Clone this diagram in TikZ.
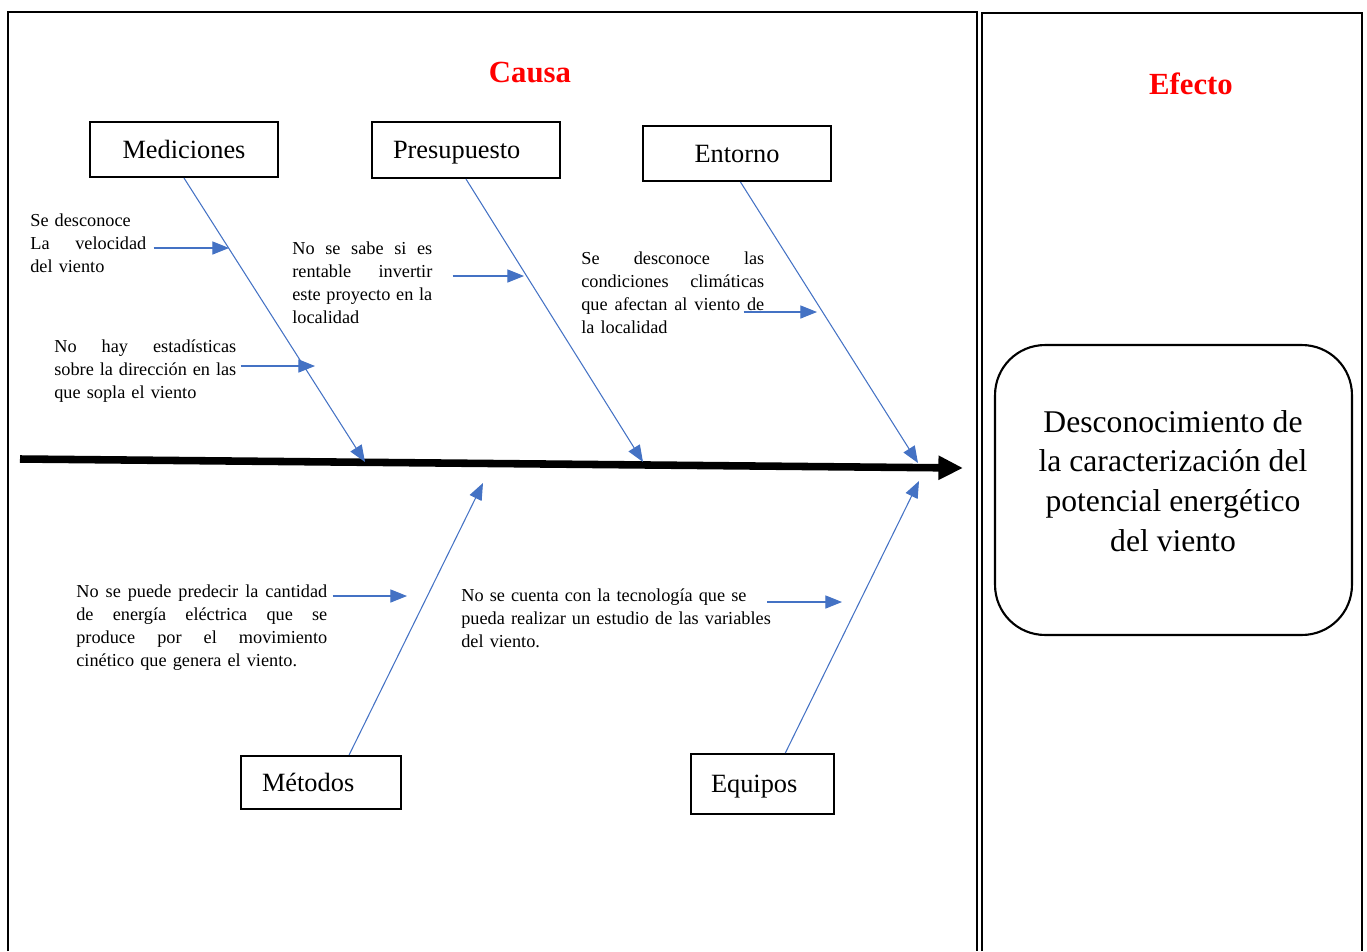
\documentclass[tikz,border=0pt]{standalone}
\usepackage{fontspec}
\setmainfont{Liberation Serif}
\usetikzlibrary{arrows.meta, positioning, calc}
\definecolor{boneblue}{HTML}{4472C4}
\newcommand{\jl}[2]{\makebox[#1][s]{\spaceskip=0pt\relax #2}}

\begin{document}
\begin{tikzpicture}[
    x=0.02cm, y=-0.02cm,
    frame/.style={line width=1.3pt},
    cat/.style={rectangle, draw, line width=1.2pt, font=\fontsize{15}{18}\selectfont, inner ysep=0pt, text height=12pt, text depth=2pt},
    cause/.style={inner sep=0pt, anchor=base west, font=\fontsize{10.4}{13.2}\selectfont},
    title/.style={font=\fontsize{17.5}{21}\selectfont\bfseries, text=red},
    bone/.style={draw=boneblue, line width=0.6pt, -{Triangle[length=9.5pt, width=7.5pt]}},
    spine/.style={line width=4.3pt, -{Triangle[length=14pt, width=13pt]}},
]
\useasboundingbox (0,0) rectangle (1367,951);

% Frames
\draw[frame] (8,951) -- (8,12) -- (977,12) -- (977,951);
\draw[frame] (982,951) -- (982,13) -- (1362,13) -- (1362,951);

% Titles
\node[title] (causa) at (530,73) {Causa};
\node[title] (efecto) at (1191,84) {Efecto};

% Categories
\node[cat, minimum width=3.76cm, minimum height=1.1cm] (med) at (184,149.5) {Mediciones};
\node[cat, inner xsep=0.42cm, text width=2.92cm, align=left, minimum height=1.12cm] (pre) at (466,150) {Presupuesto};
\node[cat, minimum width=3.76cm, minimum height=1.1cm] (ent) at (737,153.5) {Entorno};
\node[cat, inner xsep=0.42cm, text width=2.36cm, align=left, minimum height=1.06cm] (met) at (321,782.5) {Métodos};
\node[cat, inner xsep=0.4cm, text width=2.06cm, align=left, minimum height=1.2cm] (equ) at (762.5,784) {Equipos};

% Effect
\node[draw, line width=1.2pt, rounded corners=1cm, minimum width=7.14cm, minimum height=5.8cm] (effbox) at (1173.5,490) {};
\node[align=center, font=\fontsize{18}{22.7}\selectfont] (efftext) at (1173,481) {Desconocimiento de\\la caracterización del\\potencial energético\\del viento};

% Spine
\coordinate (tail) at (20,459);
\coordinate (head) at (963,468);
\draw[spine] (tail) -- (head);

% Bone ends on the spine
\coordinate (mtip) at (365,462);
\coordinate (ptip) at (643,462);
\coordinate (etip) at (918,463);
\coordinate (otip) at (483,483);
\coordinate (qtip) at (919,481);

\draw[bone] (med.south) -- (mtip);
\draw[bone] (pre.south) -- (ptip);
\draw[bone] ([xshift=2pt]ent.south) -- (etip);
\draw[bone] ([xshift=16pt]met.north) -- (otip);
\draw[bone] ([xshift=13pt]equ.north) -- (qtip);

% Causes
\node[cause, text width=2.32cm] (t1) at (30,226) {Se desconoce\\\jl{2.32cm}{La velocidad}\\del viento};
\node[cause, text width=3.64cm] (t2) at (54,352) {\jl{3.64cm}{No hay estadísticas}\\\jl{3.64cm}{sobre la dirección en las}\\que sopla el viento};
\node[cause, text width=2.8cm] (t3) at (292,254) {\jl{2.8cm}{No se sabe si es}\\\jl{2.8cm}{rentable invertir}\\\jl{2.8cm}{este proyecto en la}\\localidad};
\node[cause, text width=3.66cm] (t4) at (581,264) {\jl{3.66cm}{Se desconoce las}\\\jl{3.66cm}{condiciones climáticas}\\\jl{3.66cm}{que afectan al viento de}\\la localidad};
\node[cause, text width=5.02cm] (t5) at (76,597) {\jl{5.02cm}{No se puede predecir la cantidad}\\\jl{5.02cm}{de energía eléctrica que se}\\\jl{5.02cm}{produce por el movimiento}\\cinético que genera el viento.};
\node[cause, text width=6.4cm] (t6) at (461,601) {No se cuenta con la tecnología que se\\pueda realizar un estudio de las variables\\del viento.};

% Cause arrows
\coordinate (c1) at (229,248);
\coordinate (c2) at (315,366);
\coordinate (c3) at (524,276);
\coordinate (c4) at (817,312);
\coordinate (c5) at (407,596);
\coordinate (c6) at (842,602);

\draw[bone] ($(t1.east |- c1)+(7,0)$) -- (c1);
\draw[bone] ($(t2.east |- c2)+(4,0)$) -- (c2);
\draw[bone] ($(t3.east |- c3)+(20,0)$) -- (c3);
\draw[bone] ($(t4.east |- c4)+(-21,0)$) -- (c4);
\draw[bone] ($(t5.east |- c5)+(5,0)$) -- (c5);
\draw[bone] ($(t6.west |- c6)+(306,0)$) -- (c6);

\end{tikzpicture}
\end{document}
